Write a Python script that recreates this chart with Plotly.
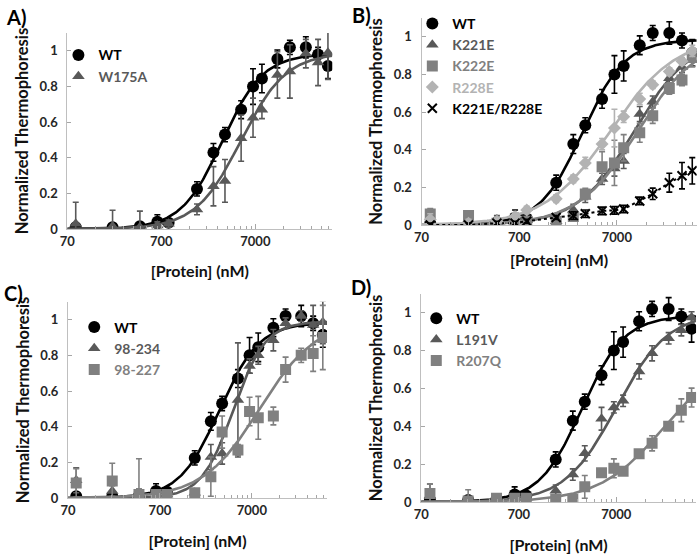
import numpy as np
import plotly.graph_objects as go

# ---------------- data ----------------
conc = [86, 212, 414, 635, 836, 1675, 2507, 3325, 4940, 6610, 8220, 12000, 16300, 24100, 32500, 41400]

wt = [0.01, 0.01, 0.015, 0.04, 0.035, 0.225, 0.43, 0.53, 0.67, 0.80, 0.845, 0.955, 1.02, 1.02, 0.98, 0.915]
wt_err = [0.02, 0.01, 0.01, 0.04, 0.02, 0.04, 0.05, 0.04, 0.05, 0.10, 0.08, 0.05, 0.04, 0.06, 0.04, 0.07]

w175a = [0.03, 0.015, 0.01, 0.02, 0.03, 0.11, 0.24, 0.27, 0.51, 0.625, 0.67, 0.865, 0.885, 0.985, 0.935, 0.99]
w175a_err = [0.12, 0.09, 0.09, 0.02, 0.02, 0.03, 0.11, 0.12, 0.13, 0.11, 0.05, 0.13, 0.15, 0.08, 0.13, 0.15]

k221e = [0.0, 0.0, 0.03, 0.02, 0.025, 0.02, 0.08, 0.15, 0.245, 0.30, 0.34, 0.59, 0.655, 0.78, 0.84, 0.875]
k221e_err = [0.01, 0.01, 0.02, 0.02, 0.02, 0.02, 0.03, 0.03, 0.03, 0.04, 0.04, 0.04, 0.03, 0.03, 0.03, 0.03]
k222e = [0.058, 0.05, 0.01, 0.012, 0.02, 0.02, 0.045, 0.165, 0.31, 0.33, 0.41, 0.49, 0.58, 0.725, 0.77, 0.89]
k222e_err = [0.03, 0.02, 0.02, 0.02, 0.02, 0.02, 0.02, 0.03, 0.08, 0.12, 0.07, 0.05, 0.04, 0.03, 0.03, 0.05]
r228e = [0.03, 0.01, 0.02, 0.045, 0.08, 0.14, 0.245, 0.33, 0.43, 0.515, 0.575, 0.67, 0.745, 0.815, 0.87, 0.925]
r228e_err = [0.03, 0.02, 0.02, 0.02, 0.02, 0.02, 0.02, 0.03, 0.03, 0.10, 0.03, 0.03, 0.02, 0.02, 0.02, 0.03]
k221e_r228e = [0.0, 0.0, 0.01, 0.01, 0.02, 0.04, 0.05, 0.06, 0.075, 0.078, 0.085, 0.128, 0.166, 0.225, 0.262, 0.288]
k221e_r228e_err = [0.01, 0.01, 0.01, 0.01, 0.01, 0.01, 0.02, 0.02, 0.02, 0.02, 0.02, 0.02, 0.03, 0.05, 0.07, 0.07]

t98_234 = [0.10, 0.04, 0.02, 0.02, 0.02, 0.03, 0.23, 0.25, 0.55, 0.74, 0.80, 0.885, 0.98, 1.02, 0.97, 0.985]
t98_234_err = [0.07, 0.03, 0.03, 0.02, 0.02, 0.02, 0.07, 0.06, 0.32, 0.04, 0.05, 0.06, 0.03, 0.03, 0.11, 0.12]
t98_227 = [0.085, 0.095, 0.02, 0.02, 0.02, 0.03, 0.12, 0.37, 0.27, 0.485, 0.45, 0.46, 0.72, 0.80, 0.81, 0.90]
t98_227_err = [0.08, 0.10, 0.20, 0.02, 0.02, 0.02, 0.11, 0.09, 0.03, 0.08, 0.12, 0.05, 0.07, 0.04, 0.10, 0.18]

l191v = [0.035, 0.0, 0.01, 0.005, 0.02, 0.06, 0.145, 0.257, 0.44, 0.50, 0.535, 0.69, 0.786, 0.865, 0.908, 0.975]
l191v_err = [0.06, 0.01, 0.02, 0.01, 0.01, 0.03, 0.03, 0.04, 0.06, 0.03, 0.03, 0.04, 0.04, 0.03, 0.03, 0.03]
r207q = [0.045, 0.005, 0.02, 0.02, 0.02, 0.015, 0.015, 0.08, 0.155, 0.178, 0.163, 0.255, 0.31, 0.40, 0.485, 0.552]
r207q_err = [0.05, 0.06, 0.02, 0.01, 0.01, 0.01, 0.01, 0.06, 0.02, 0.05, 0.02, 0.02, 0.04, 0.02, 0.06, 0.05]

# Hill-fit parameters: [EC50 (nM), Hill n, top]
fit_wt = [3100, 2.0, 0.985]
fit_w175a = [4900, 1.8, 0.99]
fit_k221e = [10500, 1.5, 1.0]
fit_k222e = [11500, 1.4, 1.0]
fit_r228e = [6000, 1.3, 1.0]
fit_98_234 = [4400, 2.5, 0.99]
fit_98_227 = [8500, 1.4, 1.0]
fit_l191v = [7000, 1.65, 1.0]
fit_r207q = [22000, 1.3, 0.8]

x_ticks = [70, 700, 7000]
y_ticks = [0, 0.2, 0.4, 0.6, 0.8, 1]

# ---------------- styling ----------------
BLACK = "#000000"
DARK = "#595959"
MID = "#808080"
LIGHT = "#b3b3b3"
FONT = "Lato"
W, H = 700, 559

XMIN, XMAX = 70, 46000
xgrid = np.logspace(np.log10(XMIN), np.log10(XMAX), 240)


def hill(p):
    k, n, top = p
    return top * xgrid ** n / (k ** n + xgrid ** n)


fig = go.Figure()

# panel pixel boxes: (left, right, top, bottom)
boxes = {
    "A": (60, 328, 33.6, 232.3),
    "B": (418.3, 696.7, 18.2, 228.3),
    "C": (60.7, 322.7, 306.2, 505.3),
    "D": (418, 696, 298.1, 509.3),
}
xtitle_standoff = {"A": 18, "B": 11, "C": 19, "D": 19}
axis_ids = {"A": ("x", "y"), "B": ("x2", "y2"), "C": ("x3", "y3"), "D": ("x4", "y4")}
legend_ids = {"A": "legend", "B": "legend2", "C": "legend3", "D": "legend4"}

sym = {"circle": 12, "triangle-up": 11, "square": 11, "diamond": 10, "x-thin": 9}


def add_series(panel, name, y, err, color, symbol, fit=None, dotted=False, text_color=None):
    xa, ya = axis_ids[panel]
    if fit is not None:
        fig.add_trace(go.Scatter(x=xgrid, y=hill(fit), mode="lines",
                                 line=dict(color=color, width=2.6), xaxis=xa, yaxis=ya,
                                 showlegend=False, hoverinfo="skip"))
    if dotted:
        fig.add_trace(go.Scatter(x=conc, y=y, mode="lines",
                                 line=dict(color=color, width=2, dash="dot"), xaxis=xa, yaxis=ya,
                                 showlegend=False, hoverinfo="skip"))
    mk = dict(color=color, size=sym[symbol], symbol=symbol)
    if symbol == "x-thin":
        mk["line"] = dict(color=color, width=2)
    tc = text_color or color
    fig.add_trace(go.Scatter(
        x=conc, y=y, mode="markers", marker=mk,
        error_y=dict(type="data", array=err, color=color, thickness=1.6, width=3),
        xaxis=xa, yaxis=ya, legend=legend_ids[panel],
        name=f"<span style='color:{tc}'>{name}</span>"))


# Panel A
add_series("A", "WT", wt, wt_err, BLACK, "circle", fit_wt)
add_series("A", "W175A", w175a, w175a_err, DARK, "triangle-up", fit_w175a)
# Panel B
add_series("B", "WT", wt, wt_err, BLACK, "circle", fit_wt)
add_series("B", "K221E", k221e, k221e_err, DARK, "triangle-up", fit_k221e)
add_series("B", "K222E", k222e, k222e_err, MID, "square", fit_k222e)
add_series("B", "R228E", r228e, r228e_err, LIGHT, "diamond", fit_r228e)
add_series("B", "K221E/R228E", k221e_r228e, k221e_r228e_err, BLACK, "x-thin", None, dotted=True)
# Panel C
add_series("C", "WT", wt, wt_err, BLACK, "circle", fit_wt)
add_series("C", "98-234", t98_234, t98_234_err, DARK, "triangle-up", fit_98_234)
add_series("C", "98-227", t98_227, t98_227_err, MID, "square", fit_98_227)
# Panel D
add_series("D", "WT", wt, wt_err, BLACK, "circle", fit_wt)
add_series("D", "L191V", l191v, l191v_err, DARK, "triangle-up", fit_l191v)
add_series("D", "R207Q", r207q, r207q_err, MID, "square", fit_r207q)

layout = dict(
    width=W, height=H, margin=dict(l=0, r=0, t=0, b=0),
    paper_bgcolor="white", plot_bgcolor="white",
    font=dict(family=FONT, color="#222222"),
)

minor_vals = [70 * k * 10 ** d for d in range(0, 3) for k in range(2, 10)]
minor_vals = [v for v in minor_vals if v < XMAX]

for i, panel in enumerate(["A", "B", "C", "D"]):
    l, r, t, b = boxes[panel]
    sfx = "" if i == 0 else str(i + 1)
    layout["xaxis" + sfx] = dict(
        type="log", range=[np.log10(XMIN), np.log10(XMAX)],
        domain=[l / W, r / W], anchor="y" + sfx,
        tickmode="array", tickvals=x_ticks, ticktext=[str(v) for v in x_ticks],
        ticks="inside", ticklen=5, tickcolor="#a6a6a6",
        minor=dict(tickmode="array", tickvals=minor_vals, ticks="inside", ticklen=3, tickcolor="#a6a6a6"),
        showline=True, linecolor="#bfbfbf", linewidth=1, showgrid=False, zeroline=False,
        tickfont=dict(family=FONT, size=13, weight="bold", color="#262626"),
        title=dict(text="[Protein] (nM)", standoff=xtitle_standoff[panel],
                   font=dict(family=FONT, size=16, weight="bold", color="#111111")),
    )
    layout["yaxis" + sfx] = dict(
        range=[0, 1.1], domain=[1 - b / H, 1 - t / H], anchor="x" + sfx,
        tickmode="array", tickvals=y_ticks, ticktext=["0", "0.2", "0.4", "0.6", "0.8", "1"],
        ticks="inside", ticklen=4, tickcolor="#a6a6a6",
        showline=True, linecolor="#bfbfbf", linewidth=1, showgrid=False, zeroline=False,
        tickfont=dict(family=FONT, size=13, weight="bold", color="#262626"),
        ticklabelstandoff=6,
        title=dict(text="Normalized Thermophoresis", standoff=6,
                   font=dict(family=FONT, size=16.5, weight="bold", color="#111111")),
    )

# legends (pixel positions of the top-left corner)
leg_pos = {"A": (51, 40), "B": (409, 8), "C": (67, 316), "D": (413, 307)}
for panel, (lx, ly) in leg_pos.items():
    layout[legend_ids[panel]] = dict(
        x=lx / W, y=1 - ly / H, xanchor="left", yanchor="top",
        bgcolor="rgba(0,0,0,0)", borderwidth=0, tracegroupgap=0, itemwidth=30,
        font=dict(family=FONT, size=14, weight="bold"),
    )

ann = []
for lab, (px, py) in {"A)": (-4, 3), "B)": (346, 1), "C)": (-6, 283), "D)": (345, 277)}.items():
    ann.append(dict(text=lab, x=px / W, y=1 - py / H, xref="paper", yref="paper",
                    xanchor="left", yanchor="top", showarrow=False,
                    font=dict(family=FONT, size=20, weight="bold", color="#000000")))
layout["annotations"] = ann
fig.update_layout(**layout)

fig.write_html("out.html", config={"displayModeBar": False},
               post_script="document.body.style.margin='0';document.body.style.overflow='hidden';")
